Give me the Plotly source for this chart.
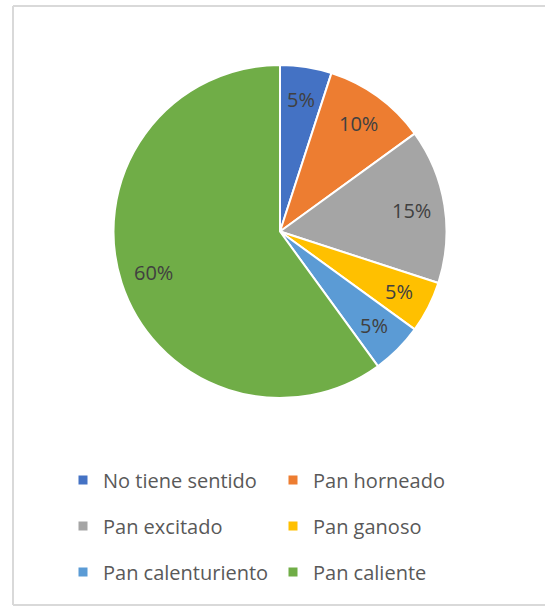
import math
import plotly.graph_objects as go

categories = ["No tiene sentido", "Pan horneado", "Pan excitado", "Pan ganoso",
              "Pan calenturiento", "Pan caliente"]
values = [5, 10, 15, 5, 5, 60]
colors = ["#4472C4", "#ED7D31", "#A5A5A5", "#FFC000", "#5B9BD5", "#70AD47"]

W, H = 545, 607
FONT = "Open Sans, sans-serif"
CX, CY, R = 280, 231.5, 166.5   # pie centre / radius in px

fig = go.Figure()
fig.add_trace(go.Pie(
    labels=categories, values=values, sort=False, direction="clockwise",
    rotation=0,
    marker=dict(colors=colors, line=dict(color="white", width=2)),
    textinfo="none",
    domain=dict(x=[(CX - R) / W, (CX + R) / W], y=[1 - (CY + R) / H, 1 - (CY - R) / H]),
    showlegend=False, hoverinfo="label+percent",
))

# data labels placed along each slice's bisector at 0.8 R (Excel best-fit style)
total = sum(values)
annotations = []
cum = 0
for v in values:
    mid = (cum + v / 2) / total * 2 * math.pi
    cum += v
    px = CX + 0.8 * R * math.sin(mid)
    py = CY - 0.8 * R * math.cos(mid)
    annotations.append(dict(
        x=px / W, y=1 - py / H, xref="paper", yref="paper",
        text=f"{round(v / total * 100)}%", showarrow=False,
        xanchor="center", yanchor="middle",
        font=dict(family=FONT, size=20, color="#404040"),
    ))

legend_rows = [0, 0, 1, 1, 2, 2]
legend_names = ["legend", "legend2", "legend3"]
for i, (cat, col) in enumerate(zip(categories, colors)):
    fig.add_trace(go.Scatter(
        x=[None], y=[None], mode="markers", name=cat,
        marker=dict(symbol="square", size=9, color=col),
        legend=legend_names[legend_rows[i]], showlegend=True, hoverinfo="skip",
    ))

row_y = [480, 526, 572]
leg_common = dict(orientation="h", xanchor="left", yanchor="middle",
                  entrywidth=165, entrywidthmode="pixels",
                  font=dict(family=FONT, size=20, color="#595959"),
                  bgcolor="rgba(0,0,0,0)", itemwidth=30)
layout_legends = {}
for name, yy in zip(legend_names, row_y):
    layout_legends[name] = dict(x=63 / W, y=1 - yy / H, **leg_common)

frame = dict(type="line", xref="paper", yref="paper",
             line=dict(color="#D9D9D9", width=2))
left, top, bottom = 13 / W, 1 - 6 / H, 1 - 605 / H
fig.update_layout(
    width=W, height=H,
    margin=dict(l=0, r=0, t=0, b=0),
    paper_bgcolor="white", plot_bgcolor="white",
    xaxis=dict(visible=False), yaxis=dict(visible=False),
    annotations=annotations,
    shapes=[
        dict(frame, x0=left, x1=1, y0=top, y1=top),
        dict(frame, x0=left, x1=left, y0=bottom, y1=top),
        dict(frame, x0=left, x1=1, y0=bottom, y1=bottom),
    ],
    **layout_legends,
)

fig.write_html("out.html", config={"displayModeBar": False},
               post_script="document.body.style.margin='0px';")
